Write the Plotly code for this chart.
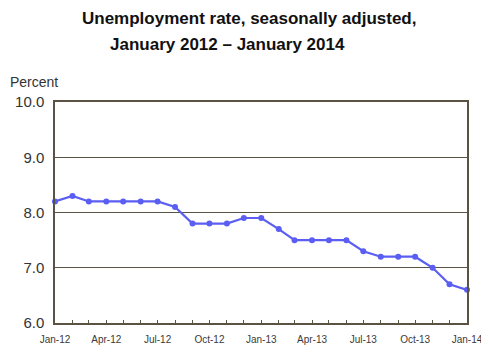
import plotly.graph_objects as go
import pandas as pd

months = pd.date_range("2012-01-01", "2014-01-01", freq="MS")
rate = [8.2, 8.3, 8.2, 8.2, 8.2, 8.2, 8.2, 8.1, 7.8, 7.8, 7.8, 7.9,
        7.9, 7.7, 7.5, 7.5, 7.5, 7.5, 7.3, 7.2, 7.2, 7.2, 7.0, 6.7, 6.6]
title_lines = ["Unemployment rate, seasonally adjusted,", "January 2012 \u2013 January 2014"]
y_ticks = [6.0, 7.0, 8.0, 9.0, 10.0]

OFF = 8  # page body margin
W, H = 489 - 2 * OFF, 362 - 2 * OFF
# plot area in page coordinates: x 55..467, y 102..323
L = 55 - OFF
T = 102 - OFF
R = W - (467 - OFF)
B = H - (323 - OFF)
pw, ph = W - L - R, H - T - B

def px(x):
    return (x - OFF - L) / pw

def py(y):
    return (H - B - (y - OFF)) / ph

fig = go.Figure()
fig.add_trace(go.Scatter(
    x=months, y=rate, mode="lines+markers",
    line=dict(color="#5b5ef2", width=2.2),
    marker=dict(color="#5b5ef2", size=6),
    cliponaxis=False, showlegend=False,
))

frame = "#5a5242"
fig.update_layout(
    width=W, height=H,
    margin=dict(l=L, r=R, t=T, b=B, autoexpand=False),
    paper_bgcolor="white", plot_bgcolor="white",
    font=dict(family="Liberation Sans, Arial, sans-serif", color="#333333"),
    xaxis=dict(
        range=[months[0], months[-1]],
        tickvals=list(months[::3]), tickformat="%b-%y",
        ticks="inside", ticklen=3, tickcolor=frame,
        minor=dict(dtick="M1", ticks="inside", ticklen=3, tickcolor=frame),
        showgrid=False, showline=True, linecolor=frame, linewidth=1.5,
        mirror=True, automargin=False, ticklabelstandoff=6,
        ticklabeloverflow="allow",
        tickfont=dict(size=10, color="#3a3a3a"),
        zeroline=False,
    ),
    yaxis=dict(
        range=[6.0, 10.0], tickvals=y_ticks, tickformat=".1f",
        showgrid=True, gridcolor=frame, gridwidth=1.3,
        showline=True, linecolor=frame, linewidth=1.5, mirror=True,
        ticks="", automargin=False, ticklabelstandoff=6,
        tickfont=dict(size=15, color="#333333"),
        zeroline=False,
    ),
    annotations=[
        dict(text="<b>" + title_lines[0] + "</b>", x=px(249), y=py(OFF + 0.5),
             xref="paper", yref="paper", showarrow=False, borderpad=0,
             font=dict(size=17, color="#111111"), xanchor="center", yanchor="top"),
        dict(text="<b>" + title_lines[1] + "</b>", x=px(227), y=py(OFF + 25.5),
             xref="paper", yref="paper", showarrow=False, borderpad=0,
             font=dict(size=17, color="#111111"), xanchor="center", yanchor="top"),
        dict(text="Percent", x=px(8), y=py(82),
             xref="paper", yref="paper", showarrow=False,
             font=dict(size=14, color="#333333"), xanchor="left", yanchor="middle"),
    ],
)

fig.write_html("out.html")
